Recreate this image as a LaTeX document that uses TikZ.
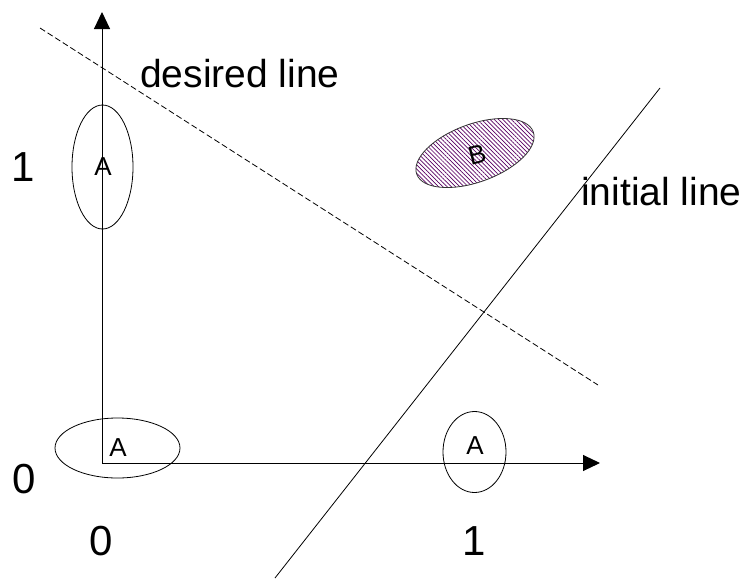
\documentclass[tikz,border=0pt]{standalone}
\usepackage{fontspec}
\setmainfont{Liberation Sans}
\usetikzlibrary{arrows.meta,patterns.meta}
\definecolor{hatch}{RGB}{90,0,100}
\tikzset{
  axis/.style={line width=1pt,-{Triangle[length=17pt,width=16pt]}},
  big/.style={inner sep=0pt,font=\fontsize{39}{40}\selectfont},
  digit/.style={inner sep=0pt,font=\fontsize{42}{44}\selectfont},
  small/.style={inner sep=0pt,font=\fontsize{26}{28}\selectfont},
}
\begin{document}
\begin{tikzpicture}[x=1pt,y=-1pt]
\useasboundingbox (0,0) rectangle (748,584);
% axes
\coordinate (O) at (102,463);
\coordinate (xend) at (600,463);
\coordinate (yend) at (102,12);
\draw[axis] (O) -- (xend);
\draw[axis] (O) -- (yend);
% lines
\coordinate (d1) at (40,28);
\coordinate (d2) at (598,385);
\draw[line width=0.8pt,dash pattern=on 6pt off 3pt] (d1) -- (d2);
\coordinate (i1) at (275,578);
\coordinate (i2) at (660,88);
\draw[line width=0.8pt] (i1) -- (i2);
% ellipses A
\draw[line width=0.8pt] (117.5,448) ellipse [x radius=62.5, y radius=30];
\draw[line width=0.8pt] (474.5,452) ellipse [x radius=31.5, y radius=40.5];
\draw[line width=0.8pt] (102.5,167) ellipse [x radius=30.5, y radius=62];
\node[small] (a00) at (118,447.5) {A};
\node[small] (a10) at (475,446) {A};
\node[small] (a01) at (103,167) {A};
% ellipse B
\fill[white] (475,153) ellipse [x radius=62, y radius=29, rotate=20];
\fill[pattern={Lines[angle=-45,distance=3pt,line width=0.7pt]},pattern color=hatch]
  (475,153) ellipse [x radius=62, y radius=29, rotate=20];
\draw[line width=0.8pt,black!80] (475,153) ellipse [x radius=62, y radius=29, rotate=20];
\node[small,rotate=14] (b) at (477,155) {B};
% labels
\node[big,anchor=base west] (dl) at (140,87) {desired line};
\node[big,anchor=base west] (il) at (581,205) {initial line};
\node[digit] (y1) at (23.5,167.5) {1};
\node[digit] (y0) at (24,479) {0};
\node[digit] (x0) at (101,541) {0};
\node[digit] (x1) at (474,541) {1};
\end{tikzpicture}
\end{document}
